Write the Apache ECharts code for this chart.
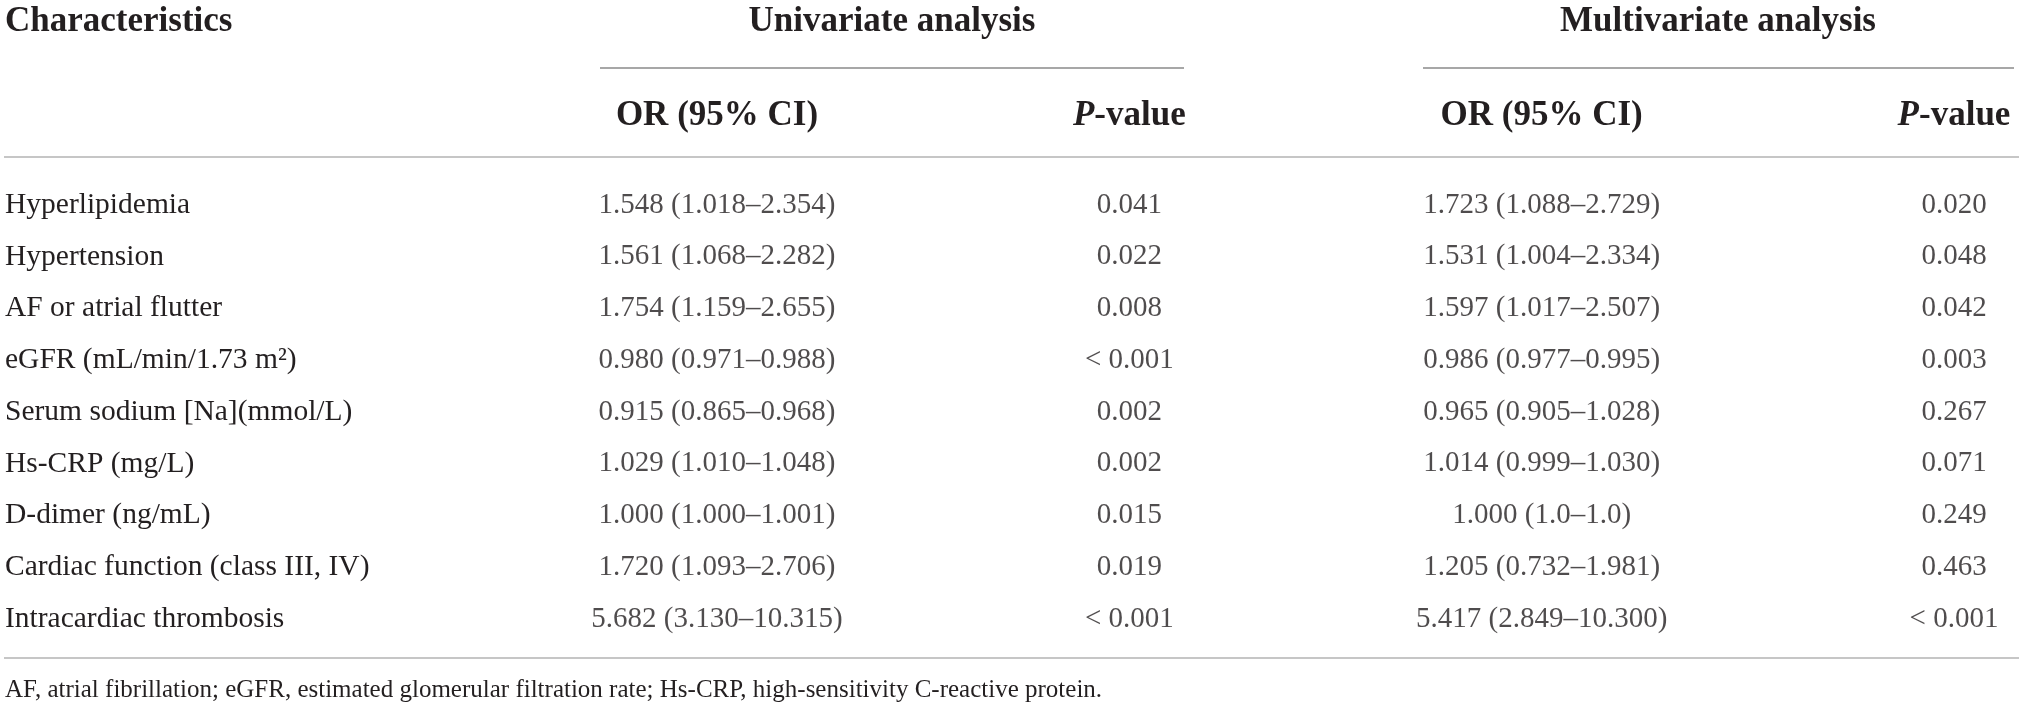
<!DOCTYPE html>
<html>
<head>
<meta charset="utf-8">
<title>OR table</title>
<script src="https://cdn.jsdelivr.net/npm/echarts@6/dist/echarts.min.js"></script>
<style>
    html, body { margin: 0; padding: 0; background: #fff; }
    #main { width: 2019px; height: 711px; }
</style>
</head>
<body>
<div id="main"></div>
<script>
// table content
var rowNames = ['Hyperlipidemia', 'Hypertension', 'AF or atrial flutter', 'eGFR (mL/min/1.73 m²)',
    'Serum sodium [Na](mmol/L)', 'Hs-CRP (mg/L)', 'D-dimer (ng/mL)',
    'Cardiac function (class III, IV)', 'Intracardiac thrombosis'];
var columns = ['OR (95% CI)', 'P-value', 'OR (95% CI)', 'P-value'];
var groups = ['Univariate analysis', 'Multivariate analysis'];
var uniOR = ['1.548 (1.018–2.354)', '1.561 (1.068–2.282)', '1.754 (1.159–2.655)', '0.980 (0.971–0.988)',
    '0.915 (0.865–0.968)', '1.029 (1.010–1.048)', '1.000 (1.000–1.001)', '1.720 (1.093–2.706)', '5.682 (3.130–10.315)'];
var uniP = ['0.041', '0.022', '0.008', '< 0.001', '0.002', '0.002', '0.015', '0.019', '< 0.001'];
var multiOR = ['1.723 (1.088–2.729)', '1.531 (1.004–2.334)', '1.597 (1.017–2.507)', '0.986 (0.977–0.995)',
    '0.965 (0.905–1.028)', '1.014 (0.999–1.030)', '1.000 (1.0–1.0)', '1.205 (0.732–1.981)', '5.417 (2.849–10.300)'];
var multiP = ['0.020', '0.048', '0.042', '0.003', '0.267', '0.071', '0.249', '0.463', '< 0.001'];
var footnote = 'AF, atrial fibrillation; eGFR, estimated glomerular filtration rate; Hs-CRP, high-sensitivity C-reactive protein.';

var FONT = '"Liberation Serif", "DejaVu Serif", serif';
var INK = '#231f20';

function cellSeries(colIdx, texts) {
    return {
        type: 'scatter',
        symbolSize: 1,
        itemStyle: { color: 'transparent' },
        silent: true,
        label: {
            show: true,
            position: 'inside',
            color: INK,
            fontFamily: FONT,
            fontSize: 29,
            formatter: function (p) { return texts[p.data[1]]; }
        },
        data: texts.map(function (t, i) { return [colIdx, i]; })
    };
}

var myChart = echarts.init(document.getElementById('main'), null, { renderer: 'canvas' });
var option = {
    animation: false,
    backgroundColor: '#fff',
    grid: { left: 717, right: 65, top: 205, bottom: 92, containLabel: false },
    xAxis: {
        type: 'category',
        position: 'top',
        boundaryGap: false,
        data: columns,
        axisLine: { show: false },
        axisTick: { show: false },
        splitLine: { show: false },
        axisLabel: {
            interval: 0,
            margin: 89,
            verticalAlign: 'middle',
            formatter: function (v) {
                return v === 'P-value' ? '{i|P}{b|-value}' : '{b|' + v + '}';
            },
            rich: {
                b: { fontFamily: FONT, fontWeight: 'bold', fontSize: 35, color: INK },
                i: { fontFamily: FONT, fontWeight: 'bold', fontStyle: 'italic', fontSize: 35, color: INK }
            }
        }
    },
    yAxis: {
        type: 'category',
        inverse: true,
        boundaryGap: false,
        data: rowNames,
        axisLine: { show: false },
        axisTick: { show: false },
        splitLine: { show: false },
        axisLabel: {
            interval: 0,
            align: 'left',
            margin: 712,
            color: INK,
            fontFamily: FONT,
            fontSize: 29.5
        }
    },
    graphic: [
        { type: 'text', left: 5, top: 4, style: { text: 'Characteristics', font: 'bold 35px ' + FONT, fill: INK } },
        { type: 'text', x: 892, y: 22, style: { text: groups[0], font: 'bold 35px ' + FONT, fill: INK, textAlign: 'center', textVerticalAlign: 'middle' } },
        { type: 'text', x: 1718, y: 22, style: { text: groups[1], font: 'bold 35px ' + FONT, fill: INK, textAlign: 'center', textVerticalAlign: 'middle' } },
        { type: 'line', shape: { x1: 600, y1: 68, x2: 1184, y2: 68 }, style: { stroke: '#8a8a8a', lineWidth: 1.5 } },
        { type: 'line', shape: { x1: 1423, y1: 68, x2: 2014, y2: 68 }, style: { stroke: '#8a8a8a', lineWidth: 1.5 } },
        { type: 'line', shape: { x1: 4, y1: 157, x2: 2019, y2: 157 }, style: { stroke: '#c6c6c6', lineWidth: 2 } },
        { type: 'line', shape: { x1: 4, y1: 658, x2: 2019, y2: 658 }, style: { stroke: '#c6c6c6', lineWidth: 2 } },
        { type: 'text', left: 5, top: 678, style: { text: footnote, font: '25px ' + FONT, fill: INK } }
    ],
    series: [
        cellSeries(0, uniOR),
        cellSeries(1, uniP),
        cellSeries(2, multiOR),
        cellSeries(3, multiP)
    ]
};
myChart.setOption(option);
</script>
</body>
</html>
